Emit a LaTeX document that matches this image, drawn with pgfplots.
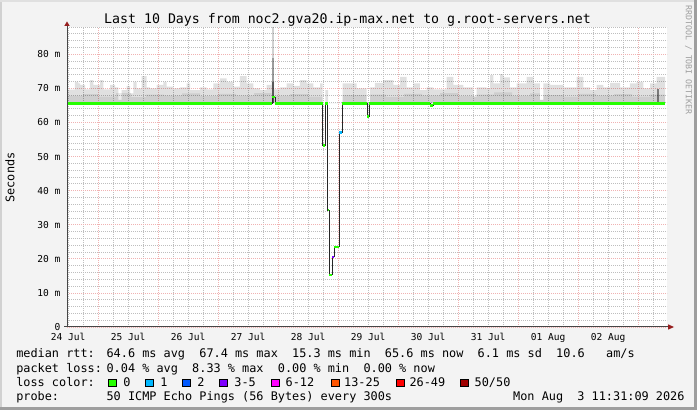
\documentclass[border=0pt]{standalone}
\usepackage{fontspec}
\setmainfont{DejaVu Sans Mono}
\usepackage{pgfplots}
\pgfplotsset{compat=1.18}

\definecolor{canvas}{RGB}{243,243,243}
\definecolor{gridminor}{RGB}{190,190,190}
\definecolor{gridmajor}{RGB}{240,178,178}
\definecolor{arrowred}{RGB}{150,30,30}
\definecolor{axisgray}{RGB}{70,70,70}
\definecolor{loss0}{RGB}{38,255,0}
\definecolor{loss1}{RGB}{0,184,255}
\definecolor{loss2}{RGB}{0,89,255}
\definecolor{loss3}{RGB}{126,0,255}
\definecolor{loss6}{RGB}{255,0,255}
\definecolor{loss13}{RGB}{255,85,0}
\definecolor{loss26}{RGB}{255,0,0}
\definecolor{loss50}{RGB}{160,0,0}

\newcommand\legfont{\fontsize{11.9}{13}\selectfont}

\begin{document}
\begin{tikzpicture}
\useasboundingbox (0,0) rectangle (697bp,410bp);
% canvas and frame
\fill[canvas] (0,0) rectangle (697bp,410bp);
\fill[black!18] (0,0) rectangle (2bp,410bp);
\fill[black!12] (0,408bp) rectangle (697bp,410bp);
\fill[black!38] (694bp,0) rectangle (697bp,410bp);
\fill[black!38] (0,0) rectangle (697bp,3bp);

\begin{axis}[
  at={(67bp,83bp)}, anchor=south west,
  scale only axis, width=600bp, height=300bp,
  xmin=0.48, xmax=10.48, ymin=0, ymax=88,
  axis line style={draw=none},
  axis background/.style={fill=white},
  xtick={1,2,...,10}, xticklabels={,,,,,,,,,},
  minor xtick={0.5,0.75,...,10.25},
  extra x ticks={0.5,1.5,...,9.5},
  extra x tick labels={24 Jul,25 Jul,26 Jul,27 Jul,28 Jul,29 Jul,30 Jul,31 Jul,01 Aug,02 Aug},
  extra x tick style={grid=none},
  ytick={0,10,...,80},
  yticklabels={0,10 m,20 m,30 m,40 m,50 m,60 m,70 m,80 m},
  minor ytick={2,4,...,88},
  grid=both,
  minor grid style={gridminor, dash pattern=on 1bp off 1bp, line width=0.7bp},
  major grid style={gridmajor, dash pattern=on 1bp off 1bp, line width=0.7bp},
  major tick length=0pt, minor tick length=0pt,
  ticklabel style={font=\fontsize{9.6}{11}\selectfont, text=black},
  xticklabel style={anchor=base, yshift=-14bp},
  yticklabel style={anchor=east, inner sep=0pt, xshift=-6.4bp},
]
% smoke (outer, light), closed along the 65.6 baseline
\addplot[const plot, fill=black, fill opacity=0.12, draw=none] coordinates {
(0.48,69.6)(0.613,71.9)(0.669,71.5)(0.697,71.0)(0.78,69.7)(0.863,72.4)(0.919,71.0)(1.03,72.4)
(1.085,69.7)(1.197,71.0)(1.28,70.3)(1.335,66.6)(1.392,69.5)(1.475,70.7)(1.53,68.5)(1.585,71.9)
(1.642,70.0)(1.725,73.6)(1.808,70.3)(1.863,70.0)(1.975,71.0)(2.085,71.9)(2.142,70.5)(2.252,70.0)
(2.363,70.3)(2.475,71.5)(2.53,69.5)(2.697,70.3)(2.808,69.7)(2.918,71.5)(3.03,72.9)(3.142,71.9)
(3.252,70.5)(3.363,73.6)(3.475,71.5)(3.585,70.0)(3.697,69.5)(3.808,71.0)(3.892,72.0)(3.93,69.7)
(4.03,70.3)(4.142,71.5)(4.252,70.7)(4.363,72.4)(4.475,71.5)(4.585,70.3)(4.697,71.5)(4.742,65.6)
(4.788,69.5)(4.83,65.6)(5.075,71.5)(5.308,70.0)(5.475,65.6)(5.53,70.3)(5.613,71.6)(5.752,72.4)
(5.918,71.0)(6.03,73.4)(6.142,70.3)(6.252,71.5)(6.363,69.5)(6.475,70.3)(6.585,69.7)(6.808,73.4)
(6.918,71.0)(7.085,70.3)(7.252,67.5)(7.308,70.3)(7.475,70.0)(7.53,73.9)(7.585,71.5)(7.697,74.2)
(7.752,73.2)(7.863,70.3)(7.975,71.5)(8.142,73.4)(8.252,71.5)(8.363,66.6)(8.419,71.5)(8.53,71.0)
(8.752,70.3)(8.975,73.4)(9.085,70.3)(9.197,69.5)(9.308,71.0)(9.419,70.3)(9.53,71.6)(9.697,70.3)
(9.863,71.5)(9.975,71.9)(10.085,70.0)(10.197,71.5)(10.308,73.4)(10.447,73.4)}
  -- (axis cs:10.447,65.6) -- (axis cs:0.48,65.6) -- cycle;
% smoke (inner, darker)
\addplot[const plot, fill=black, fill opacity=0.08, draw=none] coordinates {
(0.48,67.8)(0.75,68.3)(1.0,67.6)(1.3,68.6)(1.55,67.4)(1.8,68.2)(2.1,67.9)(2.4,68.5)(2.7,67.7)
(3.0,68.4)(3.3,67.9)(3.6,68.6)(3.892,67.8)(4.2,68.3)(4.5,67.6)(4.742,65.6)(5.075,68.0)(5.475,65.6)
(5.53,68.2)(5.8,67.5)(6.1,68.4)(6.4,67.9)(6.7,68.6)(7.0,67.7)(7.3,68.2)(7.6,68.8)(7.9,67.8)
(8.2,68.5)(8.363,66.6)(8.419,68.0)(8.75,67.6)(9.0,68.4)(9.3,67.9)(9.6,68.3)(9.9,67.6)(10.2,68.2)
(10.447,68.2)}
  -- (axis cs:10.447,65.6) -- (axis cs:0.48,65.6) -- cycle;
% spikes
\addplot[fill=black, fill opacity=0.18, draw=none] coordinates {(3.897,65.6)(3.897,88)(3.925,88)(3.925,65.6)} -- cycle;
\addplot[fill=black, fill opacity=0.25, draw=none] coordinates {(3.897,65.6)(3.897,79)(3.925,79)(3.925,65.6)} -- cycle;
\addplot[fill=black, fill opacity=0.35, draw=none] coordinates {(3.897,65.6)(3.897,72)(3.925,72)(3.925,65.6)} -- cycle;
\addplot[fill=black, fill opacity=0.45, draw=none] coordinates {(10.313,65.6)(10.313,69.8)(10.345,69.8)(10.345,65.6)} -- cycle;
% median rtt
\addplot[const plot, black!85, line width=0.9bp] coordinates {
(0.48,65.6)(3.897,67.4)(3.947,65.6)(4.742,53.2)(4.788,65.6)(4.825,34.3)(4.852,15.3)(4.902,20.6)
(4.935,23.5)(5.018,57.0)(5.068,65.6)(5.485,61.7)(5.518,65.6)(6.53,65.0)(6.58,65.6)(10.447,65.6)};
\addplot[loss0, line width=2.4bp, unbounded coords=jump] coordinates {
(0.48,65.6)(3.897,65.6)(3.897,nan)
(3.897,67.4)(3.947,67.4)(3.947,nan)
(3.947,65.6)(4.742,65.6)(4.742,nan)
(4.742,53.2)(4.788,53.2)(4.788,nan)
(4.788,65.6)(4.825,65.6)(4.825,nan)
(4.825,34.3)(4.852,34.3)(4.852,nan)
(4.852,15.3)(4.902,15.3)(4.902,nan)
(4.935,23.5)(5.018,23.5)(5.018,nan)
(5.068,65.6)(5.485,65.6)(5.485,nan)
(5.485,61.7)(5.518,61.7)(5.518,nan)
(5.518,65.6)(6.53,65.6)(6.53,nan)
(6.53,65.0)(6.58,65.0)(6.58,nan)
(6.58,65.6)(10.447,65.6)};
\addplot[loss3, line width=2.4bp] coordinates {(4.902,20.6)(4.935,20.6)};
\addplot[loss1, line width=2.4bp] coordinates {(5.018,57.0)(5.068,57.0)};
\end{axis}

% axis lines and arrows
\draw[axisgray, line width=1bp] (67bp,83bp) -- (67bp,384bp);
\draw[axisgray, line width=1bp] (64bp,83bp) -- (668bp,83bp);
\fill[arrowred] (64.3bp,384bp) -- (69.7bp,384bp) -- (67bp,388.5bp) -- cycle;
\fill[arrowred] (668bp,80.3bp) -- (668bp,85.7bp) -- (674bp,83bp) -- cycle;

% titles
\node[anchor=base, inner sep=0pt, font=\fontsize{13.3}{15}\selectfont] at (347.5bp,386bp)
  {Last 10 Days from noc2.gva20.ip-max.net to g.root-servers.net};
\node[rotate=90, inner sep=0pt, font=\legfont] at (10bp,232.5bp) {Seconds};
\node[rotate=-90, inner sep=0pt, text=black!38, font=\fontsize{8.3}{9}\selectfont] at (688.5bp,350bp)
  {RRDTOOL / TOBI OETIKER};

% legend
\begin{scope}[every node/.style={anchor=base west, inner sep=0pt, font=\legfont}]
\node at (16.1bp,52bp) {median rtt:};
\node at (106.4bp,52bp) {64.6 ms avg~~67.4 ms max~~15.3 ms min~~65.6 ms now~~6.1 ms sd~~10.6~~~am/s};
\node at (16.1bp,38bp) {packet loss:};
\node at (106.4bp,38bp) {0.04 \% avg~~8.33 \% max~~0.00 \% min~~0.00 \% now};
\node at (16.1bp,24bp) {loss color:};
\node at (16.1bp,10bp) {probe:};
\node at (106.4bp,10bp) {50 ICMP Echo Pings (56 Bytes) every 300s};
\node at (513bp,10bp) {Mon Aug~~3 11:31:09 2026};
\end{scope}
\begin{scope}[every node/.style={anchor=base west, inner sep=0pt, font=\legfont}]
\filldraw[fill=loss0, draw=black, line width=0.8bp] (108.7bp,23.3bp) rectangle ++(8bp,7.7bp);
\node at (123.2bp,24bp) {0};
\filldraw[fill=loss1, draw=black, line width=0.8bp] (145.7bp,23.3bp) rectangle ++(8bp,7.7bp);
\node at (160.2bp,24bp) {1};
\filldraw[fill=loss2, draw=black, line width=0.8bp] (182.5bp,23.3bp) rectangle ++(8bp,7.7bp);
\node at (197.1bp,24bp) {2};
\filldraw[fill=loss3, draw=black, line width=0.8bp] (219.8bp,23.3bp) rectangle ++(8bp,7.7bp);
\node at (234.2bp,24bp) {3-5};
\filldraw[fill=loss6, draw=black, line width=0.8bp] (271bp,23.3bp) rectangle ++(8bp,7.7bp);
\node at (285.5bp,24bp) {6-12};
\filldraw[fill=loss13, draw=black, line width=0.8bp] (331bp,23.3bp) rectangle ++(8bp,7.7bp);
\node at (344bp,24bp) {13-25};
\filldraw[fill=loss26, draw=black, line width=0.8bp] (396.5bp,23.3bp) rectangle ++(8bp,7.7bp);
\node at (409.3bp,24bp) {26-49};
\filldraw[fill=loss50, draw=black, line width=0.8bp] (460.3bp,23.3bp) rectangle ++(8bp,7.7bp);
\node at (474.5bp,24bp) {50/50};
\end{scope}
\end{tikzpicture}
\end{document}
